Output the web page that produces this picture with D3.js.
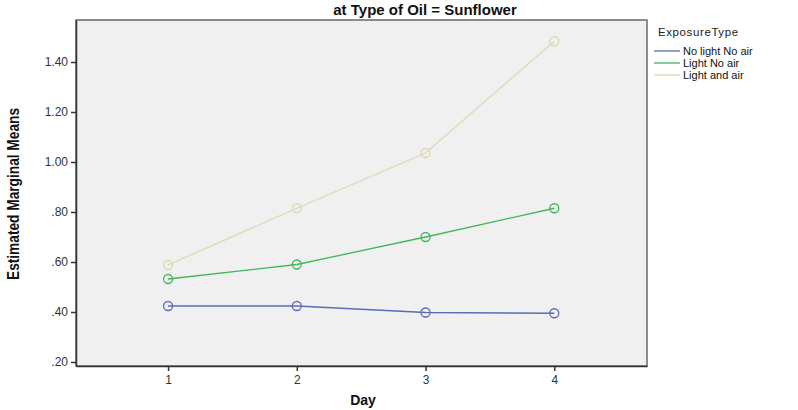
<!DOCTYPE html>
<html>
<head>
<meta charset="utf-8">
<script src="https://cdn.jsdelivr.net/npm/d3@7"></script>
<style>
  body { margin: 0; background: #fff; }
  text { font-family: "Liberation Sans", Arial, sans-serif; }
</style>
</head>
<body>
<div id="plot"></div>
<script>
var days = [1, 2, 3, 4];
var noLightNoAir = [0.424, 0.424, 0.398, 0.395];
var lightNoAir = [0.532, 0.590, 0.700, 0.815];
var lightAndAir = [0.588, 0.815, 1.036, 1.483];
var yTicks = [0.2, 0.4, 0.6, 0.8, 1.0, 1.2, 1.4];
var seriesNames = ["No light No air", "Light No air", "Light and air"];
var seriesColors = ["#5a6cb4", "#3fb85a", "#dcd9b0"];

var series = [noLightNoAir, lightNoAir, lightAndAir].map(function(vals, i) {
  return {
    name: seriesNames[i],
    color: seriesColors[i],
    points: days.map(function(d, j) { return {day: d, val: vals[j]}; })
  };
});

var W = 798, H = 410;
var plot = {left: 76, top: 20, right: 647, bottom: 366};

var svg = d3.select("#plot").append("svg")
  .attr("width", W)
  .attr("height", H);

var x = d3.scaleLinear().domain([0.285, 4.72]).range([plot.left, plot.right]);
var y = d3.scaleLinear().domain([0.184, 1.568]).range([plot.bottom, plot.top]);

// plot background
svg.append("rect")
  .attr("x", plot.left)
  .attr("y", plot.top)
  .attr("width", plot.right - plot.left)
  .attr("height", plot.bottom - plot.top)
  .style("fill", "#f0f0f0")
  .style("stroke", "#6a6a6a")
  .style("stroke-width", 1.5);

// title
svg.append("text")
  .attr("x", 425)
  .attr("y", 15)
  .attr("text-anchor", "middle")
  .style("font-size", "15px")
  .style("font-weight", "bold")
  .style("fill", "#111")
  .text("at Type of Oil = Sunflower");

// y axis
var yAxis = svg.append("g")
  .attr("transform", "translate(" + plot.left + ",0)")
  .call(d3.axisLeft(y).tickValues(yTicks).tickSize(5).tickSizeOuter(0).tickPadding(3)
    .tickFormat(function(d) { return d3.format(".2f")(d).replace(/^0/, ""); }));
yAxis.select(".domain").attr("stroke", "#333").attr("stroke-width", 1.5);
yAxis.selectAll(".tick line").attr("stroke", "#333").attr("stroke-width", 1.5);
yAxis.selectAll(".tick text")
  .style("font-size", "12px")
  .style("fill", "#333")
  .style("font-family", "'Liberation Sans', Arial, sans-serif");

// x axis
var xAxis = svg.append("g")
  .attr("transform", "translate(0," + plot.bottom + ")")
  .call(d3.axisBottom(x).tickValues(days).tickSize(5).tickSizeOuter(0).tickPadding(4)
    .tickFormat(d3.format("d")));
xAxis.select(".domain").attr("stroke", "#333").attr("stroke-width", 1.5);
xAxis.selectAll(".tick line").attr("stroke", "#333").attr("stroke-width", 1.5);
xAxis.selectAll(".tick text")
  .style("font-size", "12px")
  .style("fill", "#333")
  .style("font-family", "'Liberation Sans', Arial, sans-serif");

// axis titles
svg.append("text")
  .attr("x", 363)
  .attr("y", 405)
  .attr("text-anchor", "middle")
  .style("font-size", "14px")
  .style("font-weight", "bold")
  .style("fill", "#111")
  .text("Day");

// narrow bold label, squeezed to the reference length
svg.append("text")
  .attr("transform", "translate(19,194) rotate(-90)")
  .attr("text-anchor", "middle")
  .attr("textLength", 172)
  .attr("lengthAdjust", "spacingAndGlyphs")
  .style("font-size", "16px")
  .style("font-weight", "bold")
  .style("fill", "#111")
  .text("Estimated Marginal Means");

// lines and markers
var line = d3.line()
  .x(function(d) { return x(d.day); })
  .y(function(d) { return y(d.val); });

var groups = svg.selectAll(".series")
  .data(series)
  .enter()
  .append("g")
  .attr("class", "series");

groups.append("path")
  .attr("d", function(d) { return line(d.points); })
  .style("fill", "none")
  .style("stroke", function(d) { return d.color; })
  .style("stroke-width", 1.3);

groups.selectAll("circle")
  .data(function(d) { return d.points.map(function(p) { return {p: p, color: d.color}; }); })
  .enter()
  .append("circle")
  .attr("cx", function(d) { return x(d.p.day); })
  .attr("cy", function(d) { return y(d.p.val); })
  .attr("r", 4.5)
  .style("fill", "none")
  .style("stroke", function(d) { return d.color; })
  .style("stroke-width", 1.3);

// legend
svg.append("text")
  .attr("x", 658)
  .attr("y", 36)
  .style("font-size", "11.5px")
  .style("letter-spacing", "0.6px")
  .style("fill", "#222")
  .text("ExposureType");

var legend = svg.selectAll(".legend")
  .data(series)
  .enter()
  .append("g")
  .attr("class", "legend")
  .attr("transform", function(d, i) { return "translate(654," + (51 + i * 12) + ")"; });

legend.append("line")
  .attr("x1", 0)
  .attr("x2", 26)
  .attr("y1", 0)
  .attr("y2", 0)
  .style("stroke", function(d) { return d.color; })
  .style("stroke-width", 1.3);

legend.append("text")
  .attr("x", 29)
  .attr("y", 4)
  .style("font-size", "11px")
  .style("fill", "#111")
  .text(function(d) { return d.name; });
</script>
</body>
</html>
